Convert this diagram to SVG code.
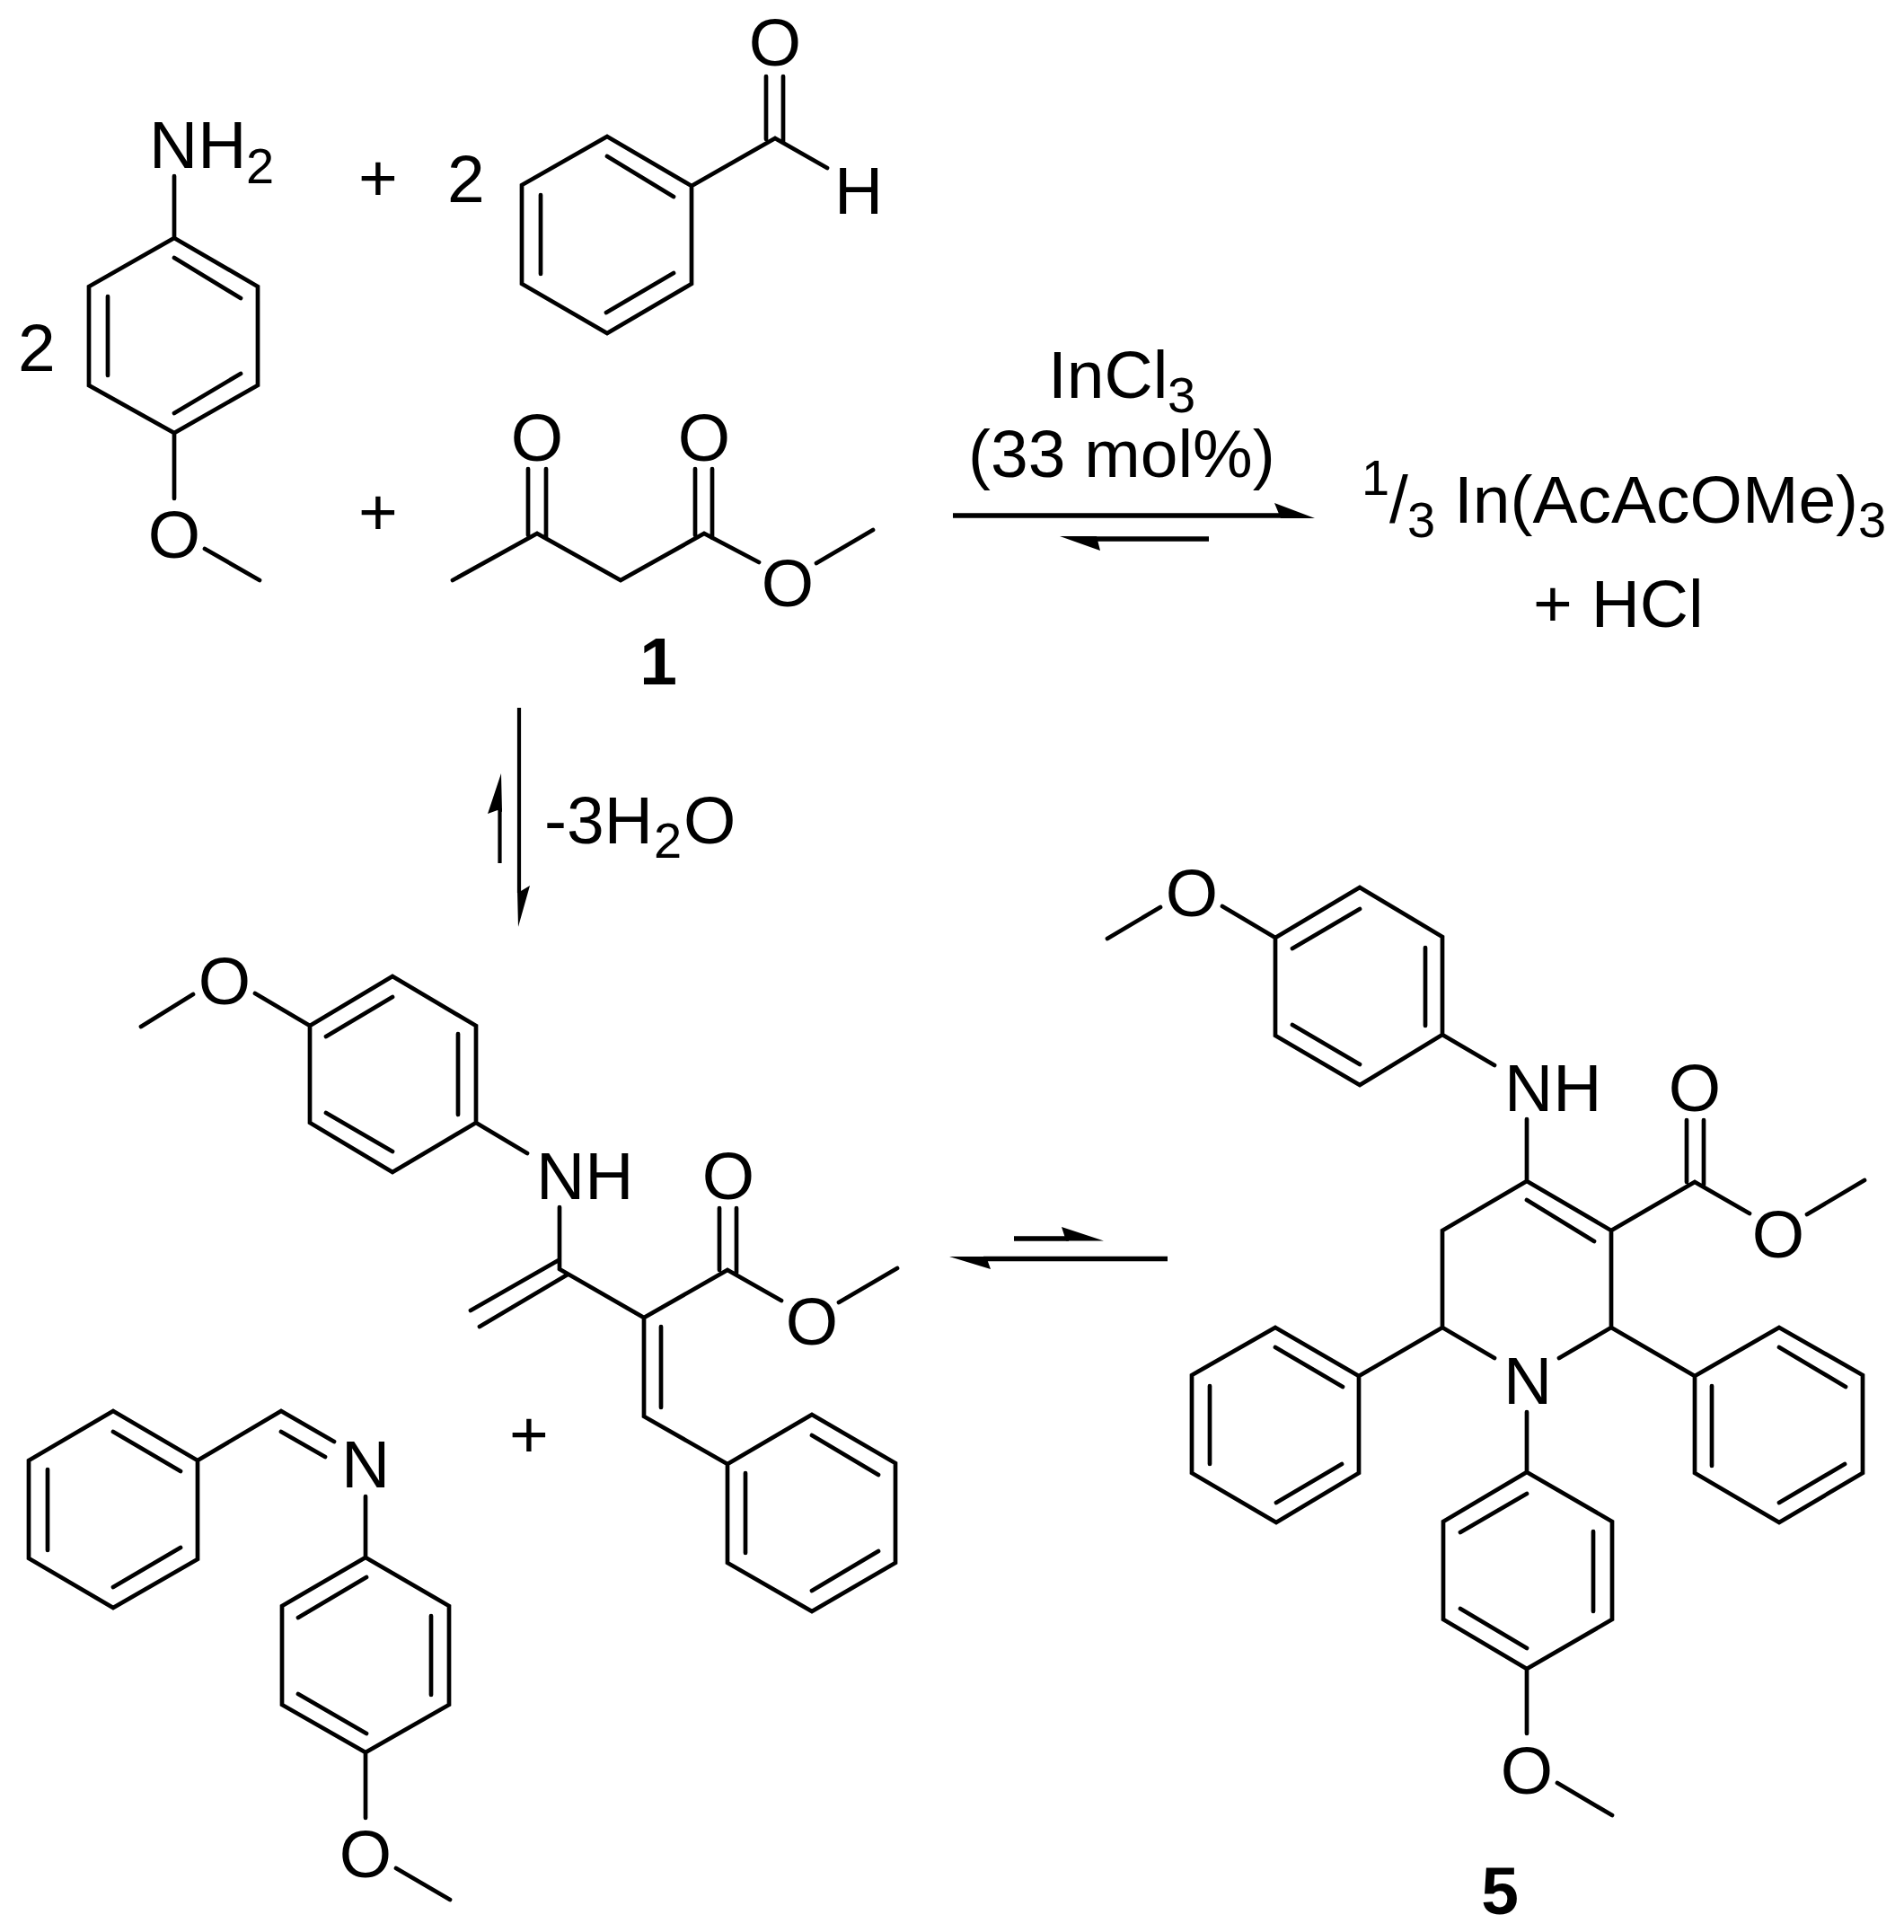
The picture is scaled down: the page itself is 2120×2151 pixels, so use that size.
<svg xmlns="http://www.w3.org/2000/svg" width="2120" height="2151" viewBox="0 0 2120 2151">
<style>
text{font-family:"Liberation Sans",Arial,sans-serif;font-size:75px;fill:#000}
.m{text-anchor:middle}
.s{font-size:56px}
.k{font-weight:bold}
.b{fill:none;stroke:#000;stroke-width:4.7;stroke-linecap:round;stroke-linejoin:miter}
.a{fill:none;stroke:#000;stroke-width:5.6}
.h{fill:#000;stroke:none}
</style>
<rect width="2120" height="2151" fill="#fff"/>
<g id="anisidine">
<path class="b" d="M194 196V265M194 265L287 319V429L194 482L99 429V319ZM194 287L268 332M120 330V418M194 460L268 416M194 482V555M228 611L289 646"/>
<text x="166" y="187">NH</text><text class="s" x="274" y="204">2</text>
<text class="m" x="194" y="621">O</text>
<text x="20" y="413">2</text>
</g>
<g id="benzaldehyde">
<path class="b" d="M676 152L770 207V316L676 371L581 316V206ZM676 174L750 219M602 217V305M675 348L750 304M770 207L863 154L921 187M853 85V155M872 85V158"/>
<text class="m" x="863" y="73">O</text>
<text x="929" y="238">H</text>
<text x="498" y="225">2</text>
<text class="m" x="421" y="224">+</text>
</g>
<g id="acetoacetate-1">
<path class="b" d="M504 646L598 594L691 646L784 594L845 626M909 627L972 590M588 522V596M608 522V599M774 522V596M793 522V599"/>
<text class="m" x="598" y="513">O</text>
<text class="m" x="784" y="513">O</text>
<text class="m" x="877" y="675">O</text>
<text class="m k" x="733" y="762">1</text>
<text class="m" x="421" y="596">+</text>
</g>
<g id="indium-products">
<text x="1167" y="443">InCl</text><text class="s" x="1300" y="459">3</text>
<text x="1078" y="531">(33 mol%)</text>
<text class="s" x="1516" y="551">1</text><text x="1547" y="582">/</text><text class="s" x="1567" y="598">3</text>
<text x="1619" y="582">In(AcAcOMe)</text><text class="s" x="2069" y="598">3</text>
<text x="1707" y="698">+ HCl</text>
</g>
<g id="water-loss">
<text x="606" y="939">-3H</text><text class="s" x="728" y="955">2</text><text x="761" y="939">O</text>
</g>
<g id="michael-acceptor">
<path class="b" d="M157 1143L215 1107M284 1106L345 1142M345 1142L437 1087L530 1142V1250L437 1305L345 1250ZM363 1154L437 1110M510 1151V1241M363 1239L437 1282M530 1250L587 1284M623 1344V1413M622 1403L524 1459M632 1419L534 1477M623 1413L717 1467L810 1414L870 1448M934 1450L999 1412M801 1345V1414M820 1345V1417M717 1467V1577L810 1630M736 1477V1567M810 1630L904 1575L997 1629V1740L904 1794L810 1740ZM904 1598L978 1642M830 1640V1729M904 1771L978 1727"/>
<text class="m" x="250" y="1118">O</text>
<text x="597" y="1335">NH</text>
<text class="m" x="811" y="1335">O</text>
<text class="m" x="904" y="1497">O</text>
<text class="m" x="589" y="1623">+</text>
</g>
<g id="imine">
<path class="b" d="M126 1571L220 1626V1736L126 1790L32 1735V1626ZM126 1594L201 1638M53 1636V1726M126 1767L201 1723M220 1626L313 1571L372 1605M313 1594L362 1622M407 1666V1734M407 1734L500 1788V1898L407 1951L314 1898V1788ZM408 1756L332 1801M480 1799V1887M332 1886L408 1930M407 1951V2024M441 2080L501 2115"/>
<text class="m" x="407" y="1656">N</text>
<text class="m" x="407" y="2090">O</text>
</g>
<g id="piperidine-5">
<path class="b" d="M1233 1045L1292 1010M1361 1009L1420 1044M1420 1044L1514 988L1606 1043V1152L1514 1208L1420 1153ZM1439 1056L1514 1012M1587 1055V1142M1439 1141L1514 1185M1606 1152L1664 1186M1700 1246V1315M1664 1512L1606 1478V1370L1700 1315L1794 1370V1478L1736 1512M1700 1336L1775 1382M1794 1370L1887 1316L1948 1351M2012 1352L2076 1314M1878 1247V1316M1897 1247V1319M1606 1478L1513 1532M1420 1478L1513 1532V1640L1421 1695L1327 1640V1531ZM1420 1500L1495 1544M1347 1543V1630M1494 1630L1421 1673M1794 1478L1887 1532M1981 1478L2074 1531V1640L1981 1695L1887 1640V1532ZM1981 1500L2055 1544M1906 1543V1632M2054 1630L1981 1673M1700 1572V1639M1700 1639L1795 1694V1803L1700 1858L1607 1803V1694ZM1700 1663L1626 1706M1774 1705V1794M1626 1791L1700 1835M1700 1858V1930M1734 1985L1795 2021"/>
<text class="m" x="1327" y="1020">O</text>
<text x="1675" y="1237">NH</text>
<text class="m" x="1887" y="1237">O</text>
<text class="m" x="1980" y="1400">O</text>
<text class="m" x="1701" y="1563">N</text>
<text class="m" x="1700" y="1997">O</text>
<text class="m k" x="1670" y="2131">5</text>
</g>
<g id="connectors">
<path class="a" d="M1061 574H1430M1346 600H1218"/>
<path class="h" d="M1464 577L1419 560L1426 577ZM1180 597L1225 613L1221 597Z"/>
<path class="a" style="stroke-width:4.2" d="M578 788V994M556.500 961V900"/>
<path class="h" d="M577 1032L590 986L580 992L576 990ZM558 861L543 906L554 902L559 904Z"/>
<path class="a" d="M1129 1379H1190M1300 1401.500H1095"/>
<path class="h" d="M1229 1381.500L1182 1366L1187 1381.500ZM1057 1399L1103 1413L1098 1399Z"/>
</g>
</svg>
